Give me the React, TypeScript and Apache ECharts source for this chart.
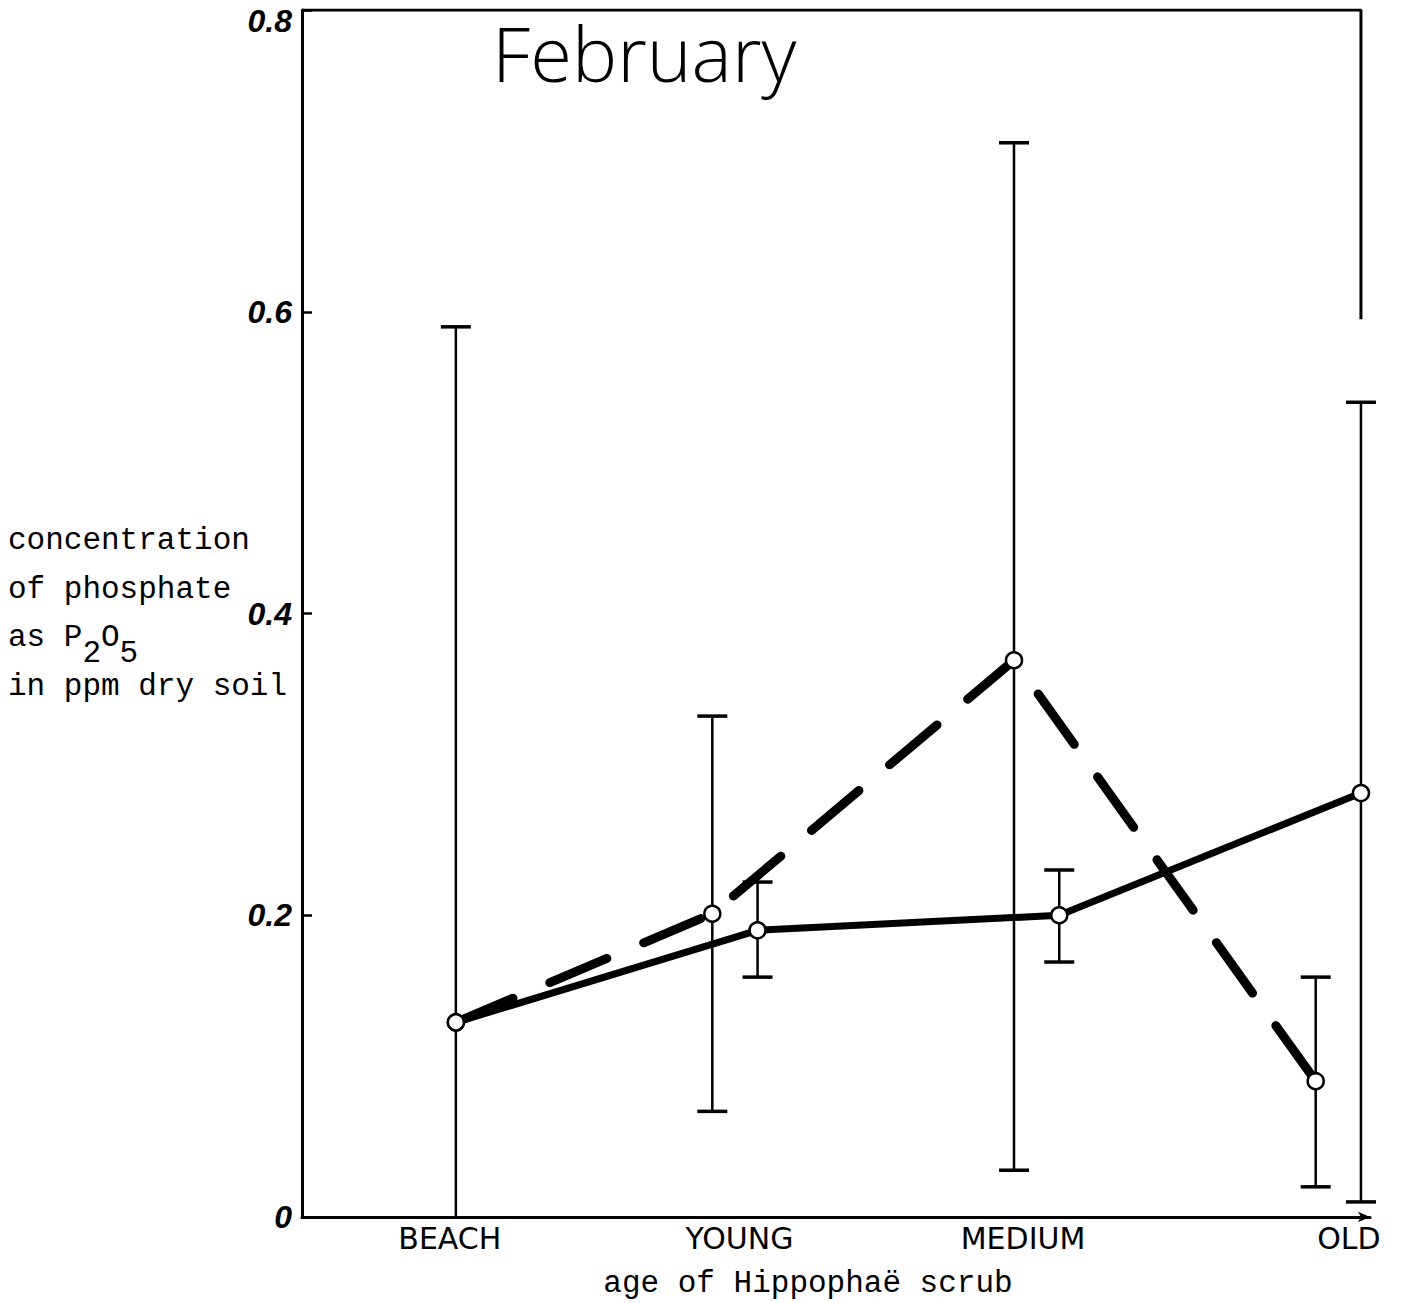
import React, { useEffect, useRef } from "react";
import * as echarts from "echarts";

// ---- data ----
const categories = ["BEACH", "YOUNG", "MEDIUM", "OLD"];
const categoryPos = [1, 2, 3, 4];
const labelPos = [0.98, 1.94, 2.88, 3.96];

// solid line series (means and error-bar ends)
const solidMean = [0.129, 0.19, 0.2, 0.281];
const solidLow = [0, 0.159, 0.169, 0.01];
const solidHigh = [0.59, 0.222, 0.23, 0.54];

// dashed line series
const dashedMean = [0.129, 0.201, 0.369, 0.09];
const dashedLow: (number | null)[] = [null, 0.07, 0.031, 0.02];
const dashedHigh: (number | null)[] = [null, 0.332, 0.712, 0.159];
const dashedShift = -0.15;

const yTicks = [0, 0.2, 0.4, 0.6, 0.8];
const xMin = 0.49;
const xMax = 4.03;
const frameRight = [0.8, 0.595];

const MONO = '"Liberation Mono", "DejaVu Sans Mono", monospace';

export default function App() {
  const ref = useRef<HTMLDivElement>(null);

  useEffect(() => {
    if (!ref.current) return;
    const chart = echarts.init(ref.current, undefined, { renderer: "svg" });

    const solidXY = categoryPos.map((x, i) => [x, solidMean[i]]);
    const dashedXY = categoryPos.map((x, i) => [i === 0 ? x : x + dashedShift, dashedMean[i]]);
    const errData: number[][] = [];
    categoryPos.forEach((x, i) => errData.push([x, solidLow[i], solidHigh[i]]));
    categoryPos.forEach((x, i) => {
      if (dashedLow[i] != null && dashedHigh[i] != null)
        errData.push([x + dashedShift, dashedLow[i] as number, dashedHigh[i] as number]);
    });

    const cw = 31 * 0.6;
    const txt = (text: string, x: number, y: number, extra: any = {}) => ({
      type: "text",
      x,
      y,
      silent: true,
      style: {
        text,
        font: `normal 31px ${MONO}`,
        fill: "#000",
        align: "left",
        verticalAlign: "middle",
        textAlign: "left",
        textVerticalAlign: "middle",
        ...extra,
      },
    });

    const yMaxTick = yTicks[yTicks.length - 1];

    chart.setOption({
      animation: false,
      backgroundColor: "#fff",
      grid: { left: 302, right: 34, top: 10, bottom: 86, containLabel: false },
      xAxis: {
        type: "value",
        min: xMin,
        max: xMax,
        axisLine: {
          show: true,
          onZero: false,
          symbol: ["none", "arrow"],
          symbolSize: [8, 12],
          lineStyle: { color: "#000", width: 3 },
        },
        axisTick: { show: false },
        splitLine: { show: false },
        axisLabel: {
          show: true,
          customValues: labelPos,
          formatter: (v: number) => categories[Math.round(v) - 1] ?? "",
          fontFamily: '"DejaVu Sans", sans-serif',
          fontSize: 30,
          color: "#000",
          margin: 6,
        },
      },
      yAxis: {
        type: "value",
        min: yTicks[0],
        max: yMaxTick,
        interval: 0.2,
        axisLine: { show: true, lineStyle: { color: "#000", width: 3 } },
        axisTick: { show: true, inside: true, length: 10, lineStyle: { color: "#000", width: 2.5 } },
        splitLine: { show: false },
        axisLabel: {
          formatter: (v: number) =>
            v === 0 ? "0" : Math.abs(v - yMaxTick) < 1e-9 ? `{top|${v.toFixed(1)}}` : v.toFixed(1),
          fontFamily: '"Liberation Sans", Arial, sans-serif',
          fontStyle: "italic",
          fontWeight: "bold",
          fontSize: 32,
          color: "#000",
          margin: 10,
          rich: {
            top: {
              fontFamily: '"Liberation Sans", Arial, sans-serif',
              fontStyle: "italic",
              fontWeight: "bold",
              fontSize: 32,
              color: "#000",
              padding: [22, 0, 0, 0],
            },
          },
        },
      },
      series: [
        {
          type: "line",
          name: "frame",
          silent: true,
          showSymbol: false,
          symbol: "none",
          data: [
            [xMin, frameRight[0]],
            [categoryPos[3], frameRight[0]],
            [categoryPos[3], frameRight[1]],
          ],
          lineStyle: { color: "#000", width: 3 },
          z: 1,
        },
        {
          type: "custom",
          name: "error bars",
          silent: true,
          clip: false,
          encode: { x: 0, y: [1, 2] },
          data: errData,
          renderItem: (params: any, api: any) => {
            const x = api.value(0);
            const lo = api.value(1);
            const hi = api.value(2);
            const top = api.coord([x, hi]);
            const bot = api.coord([x, lo]);
            const hw = 15;
            const children: any[] = [
              {
                type: "line",
                shape: { x1: top[0], y1: top[1], x2: bot[0], y2: bot[1] },
                style: { stroke: "#000", lineWidth: 2.5 },
              },
              {
                type: "line",
                shape: { x1: top[0] - hw, y1: top[1], x2: top[0] + hw, y2: top[1] },
                style: { stroke: "#000", lineWidth: 3.5 },
              },
            ];
            if (lo > 0) {
              children.push({
                type: "line",
                shape: { x1: bot[0] - hw, y1: bot[1], x2: bot[0] + hw, y2: bot[1] },
                style: { stroke: "#000", lineWidth: 3.5 },
              });
            }
            return { type: "group", children };
          },
          z: 2,
        },
        {
          type: "line",
          name: "dashed",
          data: dashedXY,
          symbol: "circle",
          symbolSize: 16,
          showSymbol: true,
          lineStyle: { color: "#000", width: 9, type: [62, 40], cap: "round" },
          itemStyle: { color: "#fff", borderColor: "#000", borderWidth: 2.5 },
          z: 3,
        },
        {
          type: "line",
          name: "solid",
          data: solidXY,
          symbol: "circle",
          symbolSize: 16,
          showSymbol: true,
          lineStyle: { color: "#000", width: 7 },
          itemStyle: { color: "#fff", borderColor: "#000", borderWidth: 2.5 },
          z: 4,
        },
      ],
      graphic: [
        {
          type: "text",
          x: 492,
          y: 52,
          silent: true,
          style: {
            text: "February",
            font: '300 76px "Open Sans", "Noto Sans", sans-serif',
            fill: "#000",
            align: "left",
            verticalAlign: "middle",
            textAlign: "left",
            textVerticalAlign: "middle",
          },
        },
        txt("concentration", 8, 540),
        txt("of phosphate", 8, 589),
        txt("as P", 8, 637),
        txt("2", 8 + 4 * cw, 653),
        txt("O", 8 + 5 * cw, 637),
        txt("5", 8 + 6 * cw, 653),
        txt("in ppm dry soil", 8, 686),
        txt("age of Hippophaë scrub", 808, 1283, { align: "center", textAlign: "center" }),
      ],
    });

    return () => chart.dispose();
  }, []);

  return (
    <div
      ref={ref}
      style={{ position: "absolute", left: 0, top: 0, width: 1404, height: 1303, background: "#fff" }}
    />
  );
}
